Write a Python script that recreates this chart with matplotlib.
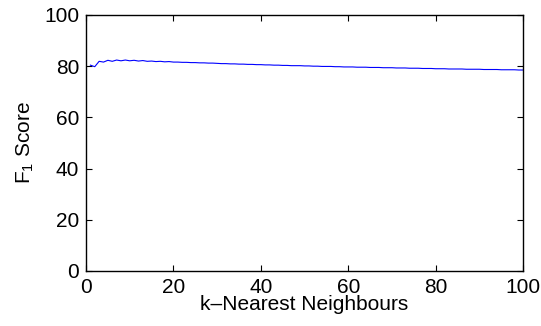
import matplotlib.pyplot as plt

plt.rcParams['font.family'] = ['Liberation Sans', 'DejaVu Sans']
plt.rcParams['mathtext.fontset'] = 'custom'
plt.rcParams['mathtext.rm'] = 'Liberation Sans'

# F1 score for k = 1..100
k_values = list(range(1, 101))
f1_scores = [
    80.4, 79.8, 81.9, 81.6, 82.3, 81.9, 82.4, 82.1, 82.4, 82.1,
    82.3, 82.0, 82.2, 81.9, 82.0, 81.8, 81.9, 81.7, 81.8, 81.6,
    81.6, 81.5, 81.5, 81.4, 81.4, 81.3, 81.3, 81.2, 81.2, 81.1,
    81.0, 81.0, 80.9, 80.9, 80.8, 80.8, 80.7, 80.7, 80.6, 80.6,
    80.5, 80.5, 80.4, 80.4, 80.3, 80.3, 80.2, 80.2, 80.2, 80.1,
    80.1, 80.0, 80.0, 79.9, 79.9, 79.9, 79.8, 79.8, 79.7, 79.7,
    79.7, 79.6, 79.6, 79.6, 79.5, 79.5, 79.5, 79.4, 79.4, 79.4,
    79.3, 79.3, 79.3, 79.2, 79.2, 79.2, 79.1, 79.1, 79.1, 79.0,
    79.0, 79.0, 78.9, 78.9, 78.9, 78.9, 78.8, 78.8, 78.8, 78.8,
    78.7, 78.7, 78.7, 78.7, 78.6, 78.6, 78.6, 78.6, 78.5, 78.5,
]
x_ticks = [0, 20, 40, 60, 80, 100]
y_ticks = [0, 20, 40, 60, 80, 100]

fig = plt.figure(figsize=(5.41, 3.26), dpi=100)
ax = fig.add_axes([0.159, 0.169, 0.808, 0.785])

ax.plot(k_values, f1_scores, color='blue', lw=0.8)

ax.set_xlim(0, 100)
ax.set_ylim(0, 100)
ax.set_xticks(x_ticks)
ax.set_yticks(y_ticks)
ax.tick_params(direction='in', length=4, width=0.8, labelsize=15,
               top=True, right=True)
ax.tick_params(axis='x', pad=5)
ax.tick_params(axis='y', pad=5)
for s in ax.spines.values():
    s.set_linewidth(1.0)

ax.set_xlabel('k\u2013Nearest Neighbours', fontsize=15, labelpad=-1)
ax.set_ylabel('F$_1$ Score', fontsize=15, labelpad=6)

fig.savefig('out.png', dpi=100)
